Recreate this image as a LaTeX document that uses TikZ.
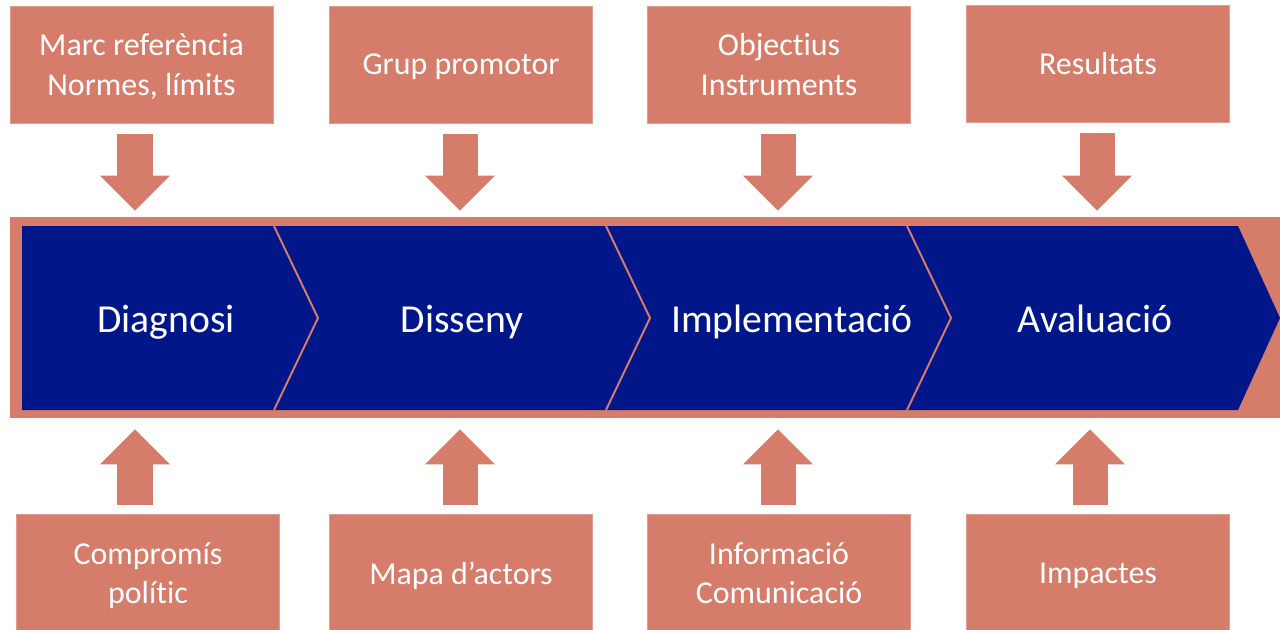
\documentclass[tikz,border=0pt]{standalone}
\usepackage{fontspec}
\setmainfont{Carlito}[Ligatures={NoCommon}]
\usetikzlibrary{arrows.meta,calc}
\definecolor{sal}{RGB}{213,124,106}
\definecolor{nav}{RGB}{0,22,137}
\tikzset{bx/.append style={fill=sal,draw=sal!75!white,line width=0.6pt,text=white,minimum width=6.575cm,minimum height=2.925cm,inner sep=0pt,text depth=0pt,align=center,font=\fontsize{22.7}{27.9}\selectfont}}
\tikzset{blk/.append style={sal,line width=0.875cm,-{Triangle[length=0.875cm,width=1.75cm,line width=0pt]}}}
\tikzset{stg/.append style={text=white,anchor=base,font=\fontsize{28.2}{33}\selectfont}}
\tikzset{sep/.append style={sal,line width=1.4pt,line join=miter}}

\begin{document}
\begin{tikzpicture}[x=0.025cm,y=-0.025cm]
                \useasboundingbox (0,0) rectangle (1280,630);
                % boxes
                \node[bx] (t1) at (141.5,64.5) {Marc referència\\Normes, límits};
                \node[bx] (t2) at (461,64.5) {Grup promotor};
                \node[bx] (t3) at (779,64.5) {Objectius\\Instruments};
                \node[bx] (t4) at (1098,63.5) {Resultats};
                \node[bx] (b1) at (148,573) {Compromís\\polític};
                \node[bx] (b2) at (461,573) {Mapa d’actors};
                \node[bx] (b3) at (779,573) {Informació\\Comunicació};
                \node[bx] (b4) at (1098,573) {Impactes};
                % process
                \node[fill=sal,minimum width=31.75cm,minimum height=5.025cm,inner sep=0pt] (band) at (645,317.5) {};
                \fill[nav] (22,226) -- (1238,226) -- (1280,318) -- (1238,410) -- (22,410) -- cycle;
                \foreach \x in {274,606,907}
                    \draw[sep] (\x,226) -- (\x+44,318) -- (\x,410);
                \node[stg] (s1) at (166,332) {Diagnosi};
                \node[stg] (s2) at (462,332) {Disseny};
                \node[stg] (s3) at (792,332) {Implementació};
                \node[stg] (s4) at (1095,332) {Avaluació};
                % arrows
                \foreach \n/\dx in {1/-6.5,2/-1,3/-1,4/-1}
                    \draw[blk] ($(t\n.south)+(\dx,11)$) -- ($(t\n.south |- band.north)+(\dx,-6)$);
                \foreach \n/\dx in {1/-13,2/-1,3/-1,4/-8}
                    \draw[blk] ($(b\n.north)+(\dx,-9)$) -- ($(b\n.north |- band.south)+(\dx,11)$);
            \end{tikzpicture}
\end{document}
